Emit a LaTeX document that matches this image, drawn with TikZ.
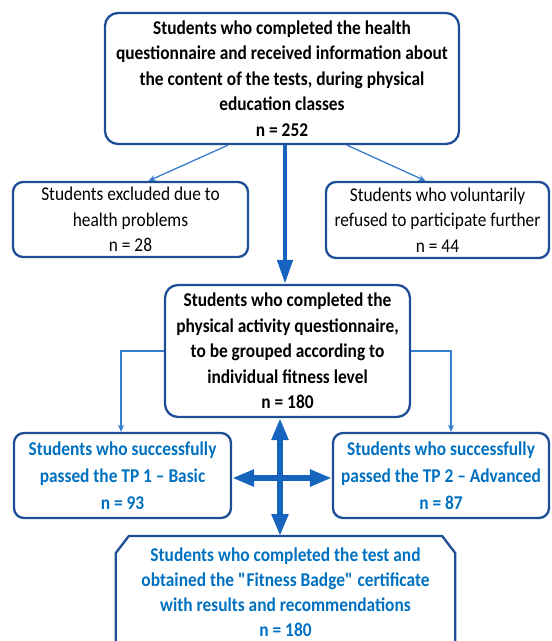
\documentclass[tikz,border=0pt]{standalone}
\usepackage{fontspec}
\setmainfont{Carlito}[FakeStretch=0.89]
\usetikzlibrary{arrows.meta}
\definecolor{boxborder}{RGB}{30,78,150}
\definecolor{thinline}{RGB}{55,125,205}
\definecolor{thickarrow}{RGB}{22,100,190}
\definecolor{bluetext}{RGB}{0,112,192}
\tikzset{
  box/.style={draw=boxborder, line width=2.3pt, rounded corners=13pt, align=center,
    inner sep=2pt, font=\fontsize{19.5}{25.5}\selectfont},
  boldbox/.style={box, font=\fontsize{19.5}{25.5}\selectfont\bfseries},
  bluebox/.style={box, text=bluetext, font=\fontsize{19.5}{27}\selectfont\bfseries, rounded corners=10pt},
  thin/.style={draw=thinline, line width=1.3pt, -{Stealth[length=7pt,width=6pt]}},
  thick/.style={draw=thickarrow, line width=4.5pt, -{Triangle[length=24pt,width=15pt]}},
  cross/.style={draw=thickarrow, line width=6pt, {Triangle[length=22pt,width=16pt]}-{Triangle[length=22pt,width=16pt]}},
}
\begin{document}
\begin{tikzpicture}[x=1pt,y=-1pt]
\useasboundingbox (0,0) rectangle (552,641);
\node[boldbox, minimum width=354pt, minimum height=131pt] (top) at (282,78.5)
  {Students who completed the health\\questionnaire and received information about\\the content of the tests, during physical\\education classes\\n = 252};
\node[box, rounded corners=10pt, minimum width=235pt, minimum height=75pt] (left) at (130.5,219.5)
  {Students excluded due to\\health problems\\n = 28};
\node[box, rounded corners=10pt, minimum width=223pt, minimum height=76pt] (right) at (437.5,220)
  {Students who voluntarily\\refused to participate further\\n = 44};
\node[boldbox, minimum width=245pt, minimum height=132pt] (mid) at (287.5,351)
  {Students who completed the\\physical activity questionnaire,\\to be grouped according to\\individual fitness level\\n = 180};
\node[bluebox, minimum width=217pt, minimum height=85pt] (ll) at (122.5,475.5)
  {Students who successfully\\passed the TP 1 -- Basic\\n = 93};
\node[bluebox, minimum width=216pt, minimum height=85pt] (lr) at (441,475.5)
  {Students who successfully\\passed the TP 2 -- Advanced\\n = 87};
\node[align=center, text=bluetext, font=\fontsize{19.5}{25}\selectfont\bfseries,
  minimum width=339pt, inner sep=0pt, anchor=north] (bot) at (285.5,548)
  {Students who completed the test and\\obtained the \textquotedbl Fitness Badge\textquotedbl{} certificate\\with results and recommendations\\n = 180};
\coordinate (bnw) at ([yshift=12]bot.north west);
\coordinate (bne) at ([yshift=12]bot.north east);
\coordinate (bsw) at (bot.west |- 0,665);
\coordinate (bse) at (bot.east |- 0,665);
\draw[draw=boxborder, line width=2.3pt, line join=round]
  (bsw) -- ([yshift=-17]bnw) -- ([xshift=13]bnw)
  -- ([xshift=-13]bne) -- ([yshift=-17]bne) -- (bse);
% connectors
\coordinate (tx) at (285,0);
\coordinate (cx) at (280,478);
\draw[thin] ([xshift=-54]top.south) -- ([xshift=18]left.north);
\draw[thin] ([xshift=65]top.south) -- ([xshift=-12]right.north);
\draw[thick] (tx |- top.south) -- (tx |- mid.north);
\draw[thin, rounded corners=0pt] (mid.west) -| ([xshift=-1.5]ll.north);
\draw[thin, rounded corners=0pt] (mid.east) -| ([xshift=10]lr.north);
\draw[cross] (cx |- mid.south) -- (cx |- bnw);
\draw[cross] (ll.east |- cx) -- (lr.west |- cx);
\end{tikzpicture}
\end{document}
